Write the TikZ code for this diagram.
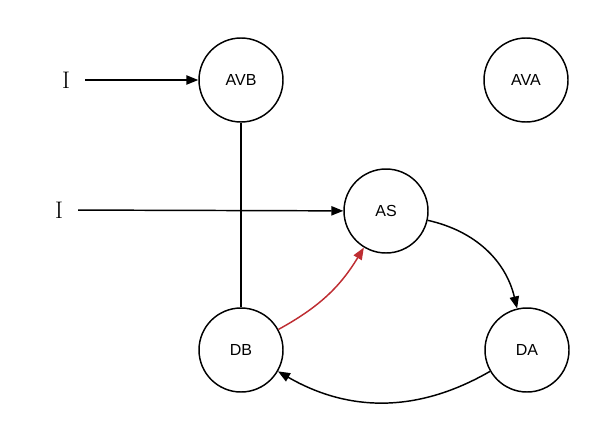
\documentclass[tikz,border=0pt]{standalone}
\usepackage{fontspec}
\newfontfamily\zustandfont{Liberation Sans}
\usetikzlibrary{arrows.meta}

\definecolor{rotpfeil}{RGB}{190,45,50}

\tikzset{
  zustand/.style={draw, circle, line width=1.1pt, minimum size=63pt, inner sep=0pt,
    font=\zustandfont\fontsize{12}{14}\selectfont},
  eingang/.style={font=\fontsize{18}{20}\selectfont, outer sep=8pt},
  pfeil/.style={-{Triangle[length=9pt,width=7pt]}, line width=1.1pt},
}

\begin{document}
\begin{tikzpicture}[x=0.75pt,y=-0.75pt]

% ---------- Rahmen (Bildgroesse in px) ----------
\useasboundingbox (0,0) rectangle (609,446);

% ---------- Zustaende ----------
\node[zustand] (avb) at (241,80)  {AVB};
\node[zustand] (ava) at (526,80)  {AVA};
\node[zustand] (as)  at (386,211) {AS};
\node[zustand] (db)  at (241,350) {DB};
\node[zustand] (da)  at (527,350) {DA};

% ---------- Eingaenge ----------
\node[eingang] (i1) at (66,80)  {I};
\node[eingang] (i2) at (59,210) {I};

% ---------- Kanten ----------
\draw[pfeil] (i1) -- (avb);
\draw[pfeil] (i2) -- (as);
\draw[line width=1.1pt] (avb) -- (db);

\draw[pfeil] (as) to[bend left=32] (da);
\draw[pfeil] (da) to[bend left=30] (db);

% rote Rueckkante
\draw[pfeil, rotpfeil] (db) to[bend right=15] (as);

\end{tikzpicture}
\end{document}
